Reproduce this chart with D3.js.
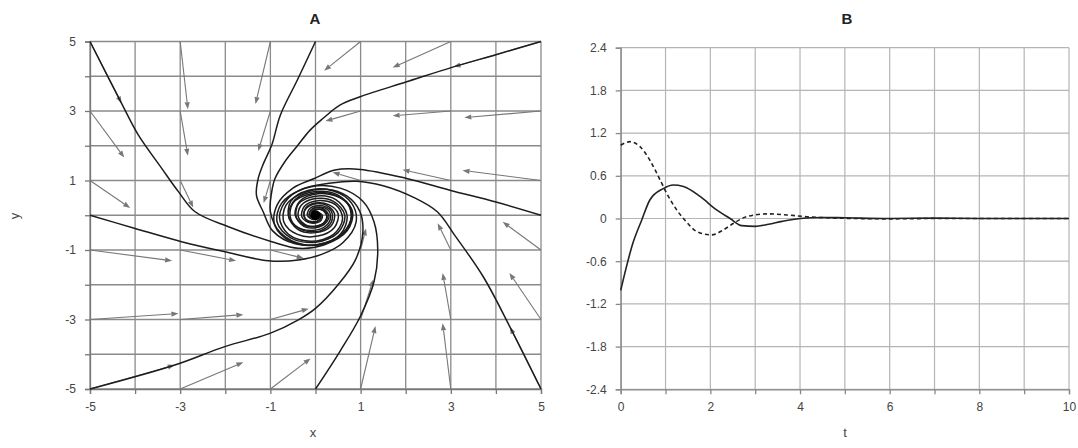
<!DOCTYPE html>
<html>
<head>
<meta charset="utf-8">
<script src="https://cdn.jsdelivr.net/npm/d3@7"></script>
<style>
  html, body { margin: 0; padding: 0; background: #fff; }
  svg { display: block; font-family: "Liberation Sans", Arial, sans-serif; }
</style>
</head>
<body>
<svg id="chart" width="1078" height="448"></svg>
<script>
// ---------- Panel A: phase portrait ----------
const phaseTicks = [-5, -4, -3, -2, -1, 0, 1, 2, 3, 4, 5];
const phaseLabels = [-5, -3, -1, 1, 3, 5];

// Direction-field arrows: [x, y, dx, dy]
const fieldArrows = [
  [-5, 5, 0.70, -1.78], [-3, 5, 0.17, -1.95], [-1, 5, -0.33, -1.80], [1, 5, -0.81, -0.84], [3, 5, -1.29, -0.75], [5, 5, -1.94, -0.73],
  [-5, 3, 0.76, -1.34], [-3, 3, 0.17, -1.29], [-1, 3, -0.27, -1.15], [1, 3, -0.78, -0.29], [3, 3, -1.29, -0.14], [5, 3, -1.70, -0.19],
  [-5, 1, 0.89, -0.79], [-3, 1, 0.29, -0.78], [-1, 1, -0.15, -0.65], [1, 1, -0.62, 0.24], [3, 1, -1.07, 0.31], [5, 1, -1.74, 0.29],
  [-5, -1, 1.82, -0.31], [-3, -1, 1.24, -0.31], [-1, -1, 0.74, -0.24], [1, -1, 0.12, 0.62], [3, -1, -0.29, 0.77], [5, -1, -0.85, 0.81],
  [-5, -3, 1.96, 0.17], [-3, -3, 1.40, 0.14], [-1, -3, 0.85, 0.31], [1, -3, 0.28, 1.15], [3, -3, -0.18, 1.34], [5, -3, -0.70, 1.34],
  [-5, -5, 1.88, 0.69], [-3, -5, 1.40, 0.77], [-1, -5, 0.89, 0.88], [1, -5, 0.33, 1.81], [3, -5, -0.18, 1.89], [5, -5, -0.69, 1.79]
];

// Trajectories, each a list of [x, y] points
const trajFromTopLeft = [[-5,5],[-4.3,3.22],[-3.93,2.31],[-3.41,1.35],[-3.04,0.68],[-2.67,0.1],[-1.93,-0.33],[-0.97,-0.76],[-0.38,-0.95],
  [0.2,-0.85],[0.7,-0.45],[0.82,0.1],[0.55,0.5],[0.05,0.62],[-0.35,0.4],[-0.45,0],[-0.25,-0.28],[0.05,-0.3],[0.25,-0.12],[0.22,0.1],[0.05,0.17],[-0.08,0.08],[-0.06,-0.03],[0,0]];
const trajFromLeft = [[-5,0],[-4,-0.38],[-2.97,-0.76],[-2.01,-1.05],[-1.05,-1.31],[-0.38,-1.29],[0.15,-1.12],
  [0.6,-0.8],[0.9,-0.2],[0.8,0.35],[0.4,0.7],[-0.15,0.72],[-0.55,0.4],[-0.58,-0.1],[-0.3,-0.4],[0.1,-0.4],[0.32,-0.15],[0.3,0.12],[0.1,0.24],[-0.1,0.15],[-0.13,-0.02],[0,-0.06],[0,0]];
const trajFromBottomLeft = [[-5,-5],[-3.12,-4.31],[-2.01,-3.78],[-1.01,-3.4],[-0.38,-3.01],[0,-2.68],[0.5,-2.0],[0.88,-1.3],[1.05,-0.5],[0.98,0.12],
  [0.7,0.55],[0.25,0.75],[-0.25,0.65],[-0.65,0.3],[-0.7,-0.2],[-0.4,-0.55],[0.05,-0.6],[0.42,-0.35],[0.5,0.05],[0.3,0.3],[0,0.35],[-0.22,0.2],[-0.25,-0.05],[-0.1,-0.18],[0.08,-0.14],[0.12,0],[0.04,0.07],[0,0]];
const trajFromBottom = [[0,-5],[0.55,-3.9],[0.99,-2.92],[1.3,-1.9],[1.38,-1.0],[1.3,-0.2],[1.05,0.4],
  [0.55,0.78],[-0.1,0.82],[-0.6,0.5],[-0.8,-0.05],[-0.6,-0.55],[-0.1,-0.75],[0.4,-0.55],[0.6,-0.1],[0.45,0.3],[0.05,0.42],[-0.25,0.25],[-0.3,-0.05],[-0.12,-0.22],[0.1,-0.18],[0.15,0],[0.05,0.08],[0,0]];
const trajFromBottomRight = [[5,-5],[4.31,-3.21],[3.72,-1.77],[3.1,-0.6],[2.7,0.1],[2.2,0.5],[1.5,0.85],[0.9,0.98],[0.3,0.92],
  [-0.3,0.75],[-0.75,0.35],[-0.85,-0.2],[-0.55,-0.65],[0,-0.78],[0.5,-0.5],[0.65,0],[0.4,0.4],[0,0.48],[-0.32,0.28],[-0.38,-0.05],[-0.18,-0.3],[0.12,-0.28],[0.25,-0.05],[0.15,0.15],[-0.05,0.15],[-0.1,0],[0,0]];
const trajFromRight = [[5,0],[4,0.38],[2.98,0.72],[2.02,1.06],[0.99,1.32],[0.43,1.3],[-0.04,1.05],
  [-0.5,0.78],[-0.85,0.3],[-0.9,-0.3],[-0.55,-0.75],[0.05,-0.85],[0.55,-0.55],[0.7,0],[0.45,0.45],[0,0.55],[-0.38,0.32],[-0.42,-0.08],[-0.2,-0.35],[0.15,-0.3],[0.3,-0.05],[0.18,0.18],[-0.05,0.2],[-0.14,0.02],[-0.05,-0.08],[0,0]];
const trajFromTopRight = [[5,5],[4,4.62],[3.06,4.27],[2.02,3.84],[0.99,3.41],[0.54,3.17],[0.17,2.79],[-0.12,2.45],[-0.4,2.0],[-0.68,1.54],[-0.9,1.05],[-0.97,0.68],[-1.0,0.1],
  [-0.78,-0.5],[-0.25,-0.85],[0.35,-0.75],[0.75,-0.3],[0.75,0.25],[0.4,0.6],[-0.1,0.62],[-0.5,0.35],[-0.55,-0.1],[-0.3,-0.42],[0.1,-0.45],[0.35,-0.2],[0.35,0.12],[0.12,0.28],[-0.12,0.2],[-0.18,0],[-0.06,-0.12],[0.06,-0.08],[0,0]];
const trajFromTop = [[0,5],[-0.4,3.9],[-0.78,2.88],[-0.97,2.02],[-1.15,1.5],[-1.27,1.06],[-1.31,0.58],[-1.16,0.1],
  [-0.95,-0.45],[-0.45,-0.82],[0.2,-0.8],[0.68,-0.4],[0.8,0.15],[0.5,0.58],[0,0.68],[-0.45,0.45],[-0.6,0],[-0.4,-0.4],[0,-0.5],[0.35,-0.3],[0.42,0.05],[0.22,0.3],[-0.08,0.3],[-0.25,0.1],[-0.2,-0.15],[0,-0.2],[0.12,-0.06],[0.05,0.06],[0,0]];
const trajectories = [trajFromTopLeft, trajFromLeft, trajFromBottomLeft, trajFromBottom,
  trajFromBottomRight, trajFromRight, trajFromTopRight, trajFromTop];
const equilibrium = [0, 0];

// ---------- Panel B: time series ----------
const tTicks = [0,1,2,3,4,5,6,7,8,9,10];
const tLabels = [0,2,4,6,8,10];
const vTicks = [-2.4,-1.8,-1.2,-0.6,0,0.6,1.2,1.8,2.4];
const solidT = [0, 0.28, 0.47, 0.65, 0.95, 1.17, 1.4, 1.77, 2.14, 2.44, 2.7, 3.0, 3.3, 3.6, 4.0, 4.5, 5.0, 6, 7, 8, 9, 10];
const solidV = [-1.01, -0.33, -0.02, 0.26, 0.42, 0.47, 0.45, 0.31, 0.12, 0.0, -0.1, -0.11, -0.08, -0.04, 0.0, 0.015, 0.01, 0, 0.005, 0, 0, 0];
const dashedT = [0, 0.21, 0.43, 0.65, 0.88, 1.03, 1.25, 1.47, 1.7, 2.03, 2.29, 2.51, 2.81, 3.26, 3.7, 4.15, 4.6, 5.2, 6, 7, 8, 9, 10];
const dashedV = [1.03, 1.08, 1.01, 0.82, 0.54, 0.35, 0.12, -0.05, -0.185, -0.23, -0.16, -0.07, 0.025, 0.065, 0.05, 0.025, 0.01, 0, -0.005, 0, 0, 0, 0];

const svg = d3.select("#chart");
const labelColor = "#444";

// ===== Panel A =====
const xA = d3.scaleLinear([-5, 5], [90, 541]);
const yA = d3.scaleLinear([-5, 5], [389, 41.5]);
const gA = svg.append("g");

gA.append("g").selectAll("line").data(phaseTicks).join("line")
  .attr("x1", d => xA(d)).attr("x2", d => xA(d))
  .attr("y1", yA(-5)).attr("y2", yA(5))
  .attr("stroke", "#8a8a8a").attr("stroke-width", 1.3);
gA.append("g").selectAll("line").data(phaseTicks).join("line")
  .attr("x1", xA(-5)).attr("x2", xA(5))
  .attr("y1", d => yA(d)).attr("y2", d => yA(d))
  .attr("stroke", "#8a8a8a").attr("stroke-width", 1.3);

const fmtA = d => phaseLabels.includes(d) ? String(d) : "";
const axAx = gA.append("g").attr("transform", `translate(0,${yA(-5)})`)
  .call(d3.axisBottom(xA).tickValues(phaseTicks).tickFormat(fmtA).tickSize(5).tickPadding(8));
const axAy = gA.append("g").attr("transform", `translate(${xA(-5)},0)`)
  .call(d3.axisLeft(yA).tickValues(phaseTicks).tickFormat(fmtA).tickSize(5).tickPadding(9));
[axAx, axAy].forEach(ax => {
  ax.select(".domain").attr("stroke", "#777").attr("stroke-width", 1.3);
  ax.selectAll(".tick line").attr("stroke", "#777").attr("stroke-width", 1.3);
  ax.selectAll("text").attr("fill", labelColor).attr("font-size", 12);
});

// direction field arrows
const arrowColor = "#777";
const gArrows = gA.append("g");
fieldArrows.forEach(([x, y, dx, dy]) => {
  const x0 = xA(x), y0 = yA(y), x1 = xA(x + dx), y1 = yA(y + dy);
  const ang = Math.atan2(y1 - y0, x1 - x0);
  const hl = 7, hw = 2.6;
  const bx = x1 - hl * Math.cos(ang), by = y1 - hl * Math.sin(ang);
  gArrows.append("line").attr("x1", x0).attr("y1", y0).attr("x2", bx).attr("y2", by)
    .attr("stroke", arrowColor).attr("stroke-width", 1.1);
  const p = [[x1, y1],
    [bx + hw * Math.sin(ang), by - hw * Math.cos(ang)],
    [bx - hw * Math.sin(ang), by + hw * Math.cos(ang)]];
  gArrows.append("path").attr("d", "M" + p.join("L") + "Z").attr("fill", arrowColor);
});

// trajectories
const trajLine = d3.line().x(d => xA(d[0])).y(d => yA(d[1])).curve(d3.curveCatmullRom.alpha(0.5));
gA.append("g").selectAll("path").data(trajectories).join("path")
  .attr("d", trajLine).attr("fill", "none").attr("stroke", "#1c1c1c").attr("stroke-width", 1.5);
gA.append("circle").attr("cx", xA(equilibrium[0])).attr("cy", yA(equilibrium[1])).attr("r", 5).attr("fill", "#000");

gA.append("text").attr("x", 315).attr("y", 24).attr("text-anchor", "middle")
  .attr("font-size", 15).attr("font-weight", "bold").attr("fill", "#222").text("A");
gA.append("text").attr("x", 313).attr("y", 437).attr("text-anchor", "middle")
  .attr("font-size", 13).attr("fill", labelColor).text("x");
gA.append("text").attr("transform", "translate(19,216) rotate(-90)").attr("text-anchor", "middle")
  .attr("font-size", 13).attr("fill", labelColor).text("y");

// ===== Panel B =====
const xB = d3.scaleLinear([0, 10], [620.7, 1069]);
const yB = d3.scaleLinear([-2.4, 2.4], [389.3, 47.7]);
const gB = svg.append("g");

gB.append("g").selectAll("line").data(tTicks).join("line")
  .attr("x1", d => xB(d)).attr("x2", d => xB(d))
  .attr("y1", yB(-2.4)).attr("y2", yB(2.4))
  .attr("stroke", "#b5b5b5").attr("stroke-width", 1.2);
gB.append("g").selectAll("line").data(vTicks).join("line")
  .attr("x1", xB(0)).attr("x2", xB(10))
  .attr("y1", d => yB(d)).attr("y2", d => yB(d))
  .attr("stroke", "#b5b5b5").attr("stroke-width", 1.2);

const axBx = gB.append("g").attr("transform", `translate(0,${yB(-2.4)})`)
  .call(d3.axisBottom(xB).tickValues(tTicks).tickFormat(d => tLabels.includes(d) ? String(d) : "").tickSize(5).tickPadding(8));
const axBy = gB.append("g").attr("transform", `translate(${xB(0)},0)`)
  .call(d3.axisLeft(yB).tickValues(vTicks).tickFormat(d => d === 0 ? "0" : d.toFixed(1)).tickSize(5).tickPadding(9));
[axBx, axBy].forEach(ax => {
  ax.select(".domain").attr("stroke", "#888").attr("stroke-width", 1.3);
  ax.selectAll(".tick line").attr("stroke", "#888").attr("stroke-width", 1.3);
  ax.selectAll("text").attr("fill", labelColor).attr("font-size", 12);
});

const lineB = d3.line().x(d => xB(d[0])).y(d => yB(d[1])).curve(d3.curveMonotoneX);
gB.append("path").attr("d", lineB(d3.zip(dashedT, dashedV)))
  .attr("fill", "none").attr("stroke", "#222").attr("stroke-width", 1.6).attr("stroke-dasharray", "4,3");
gB.append("path").attr("d", lineB(d3.zip(solidT, solidV)))
  .attr("fill", "none").attr("stroke", "#222").attr("stroke-width", 1.6);

gB.append("text").attr("x", 847).attr("y", 24).attr("text-anchor", "middle")
  .attr("font-size", 15).attr("font-weight", "bold").attr("fill", "#222").text("B");
gB.append("text").attr("x", 845).attr("y", 437).attr("text-anchor", "middle")
  .attr("font-size", 13).attr("fill", labelColor).text("t");
</script>
</body>
</html>
